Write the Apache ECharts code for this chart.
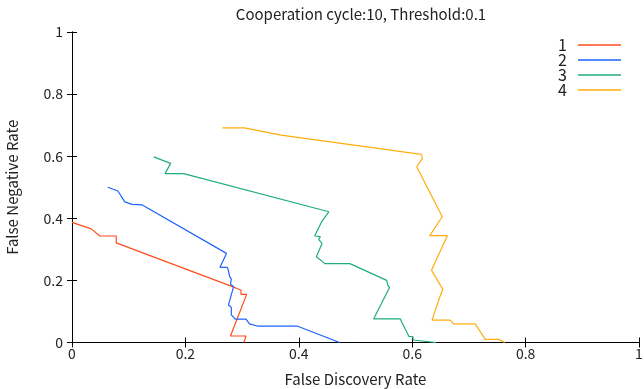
<!DOCTYPE html>
<html>
<head>
<meta charset="utf-8">
<script src="https://cdn.jsdelivr.net/npm/echarts@6/dist/echarts.min.js"></script>
<style>
  html, body { margin: 0; padding: 0; background: #fff; }
  #chart { width: 644px; height: 389px; }
</style>
</head>
<body>
<div id="chart"></div>
<script>
// Error-rate trade-off curves: [false discovery rate, false negative rate]
const seriesNames = ['1', '2', '3', '4'];

const curve1 = [
  [0, 0.387], [0.034, 0.366], [0.049, 0.343], [0.078, 0.343], [0.078, 0.321],
  [0.283, 0.18], [0.292, 0.173], [0.298, 0.169], [0.298, 0.155], [0.308, 0.155],
  [0.2795, 0.021], [0.307, 0.021], [0.303, 0]
];

const curve2 = [
  [0.063, 0.5], [0.081, 0.488], [0.093, 0.453], [0.106, 0.445], [0.124, 0.443],
  [0.2725, 0.287], [0.261, 0.242], [0.274, 0.242], [0.276, 0.231], [0.279, 0.231],
  [0.278, 0.212], [0.281, 0.204], [0.2795, 0.187], [0.285, 0.18], [0.288, 0.175],
  [0.276, 0.121], [0.281, 0.113], [0.281, 0.089], [0.284, 0.085], [0.288, 0.075],
  [0.307, 0.075], [0.313, 0.06], [0.327, 0.053], [0.397, 0.053], [0.472, 0]
];

const curve3 = [
  [0.144, 0.598], [0.174, 0.577], [0.164, 0.544], [0.197, 0.544], [0.453, 0.421],
  [0.441, 0.391], [0.428, 0.343], [0.438, 0.341], [0.435, 0.332], [0.441, 0.319],
  [0.431, 0.276], [0.446, 0.254], [0.49, 0.254], [0.555, 0.2], [0.557, 0.185],
  [0.56, 0.177], [0.532, 0.076], [0.579, 0.076], [0.594, 0.02], [0.601, 0.019],
  [0.602, 0.008], [0.642, 0]
];

const curve4 = [
  [0.265, 0.691], [0.304, 0.691], [0.369, 0.668], [0.616, 0.606], [0.618, 0.593],
  [0.608, 0.566], [0.653, 0.405], [0.631, 0.344], [0.662, 0.344], [0.634, 0.233],
  [0.654, 0.171], [0.649, 0.148], [0.635, 0.072], [0.667, 0.072], [0.673, 0.06],
  [0.711, 0.06], [0.729, 0.01], [0.753, 0.01], [0.763, 0]
];

const xTickLabels = ['0', '0.2', '0.4', '0.6', '0.8', '1'];
const yTickLabels = ['0', '0.2', '0.4', '0.6', '0.8', '1'];

const curves = [curve1, curve2, curve3, curve4];
const colors = ['#ff4d1c', '#1d63ff', '#1fae7b', '#ffad0d'];

const FONT = '"Noto Sans CJK JP", "Noto Sans", sans-serif';
const tickFmt = (labels) => (v) => labels[Math.round(v / 0.2)];

const frameAxis = {
  min: 0, max: 1, interval: 0.2,
  axisLine: { show: true, lineStyle: { color: '#000', width: 1 } },
  axisTick: { show: true, inside: true, length: 5, lineStyle: { color: '#000', width: 1 } },
  splitLine: { show: false }
};

const chart = echarts.init(document.getElementById('chart'), null, { renderer: 'canvas' });
chart.setOption({
  animation: false,
  backgroundColor: '#fff',
  title: {
    text: 'Cooperation cycle:10, Threshold:0.1',
    left: 356, top: 2, textAlign: 'center',
    textStyle: { fontFamily: FONT, fontSize: 15, fontWeight: 'normal', color: '#222' }
  },
  legend: {
    data: seriesNames,
    right: 18, top: 32, orient: 'vertical', align: 'right',
    icon: 'rect', itemWidth: 43, itemHeight: 1.5, itemGap: -1,
    textStyle: { fontFamily: FONT, fontSize: 16, lineHeight: 14, color: '#222', padding: [0, 6, 0, 0] }
  },
  grid: { left: 72, top: 32, width: 567, height: 310.5, containLabel: false, outerBoundsMode: 'none' },
  xAxis: [
    Object.assign({}, frameAxis, {
      type: 'value', position: 'bottom',
      name: 'False Discovery Rate', nameLocation: 'middle', nameGap: 29,
      nameTextStyle: { fontFamily: FONT, fontSize: 15, color: '#222' },
      axisLabel: { fontFamily: FONT, fontSize: 14, color: '#222', margin: 4, formatter: tickFmt(xTickLabels) }
    }),
    Object.assign({}, frameAxis, {
      type: 'value', position: 'top', axisLabel: { show: false }
    })
  ],
  yAxis: [
    Object.assign({}, frameAxis, {
      type: 'value', position: 'left',
      name: 'False Negative Rate', nameLocation: 'middle', nameGap: 52,
      nameTextStyle: { fontFamily: FONT, fontSize: 15, color: '#222' },
      axisLabel: { fontFamily: FONT, fontSize: 14, color: '#222', margin: 9, formatter: tickFmt(yTickLabels) }
    }),
    Object.assign({}, frameAxis, {
      type: 'value', position: 'right', axisLabel: { show: false }
    })
  ],
  series: curves.map((data, i) => ({
    name: seriesNames[i],
    type: 'line',
    data: data,
    xAxisIndex: 0, yAxisIndex: 0,
    showSymbol: false, symbol: 'none',
    lineStyle: { color: colors[i], width: 1.2 },
    itemStyle: { color: colors[i] },
    clip: true
  }))
});
</script>
</body>
</html>
